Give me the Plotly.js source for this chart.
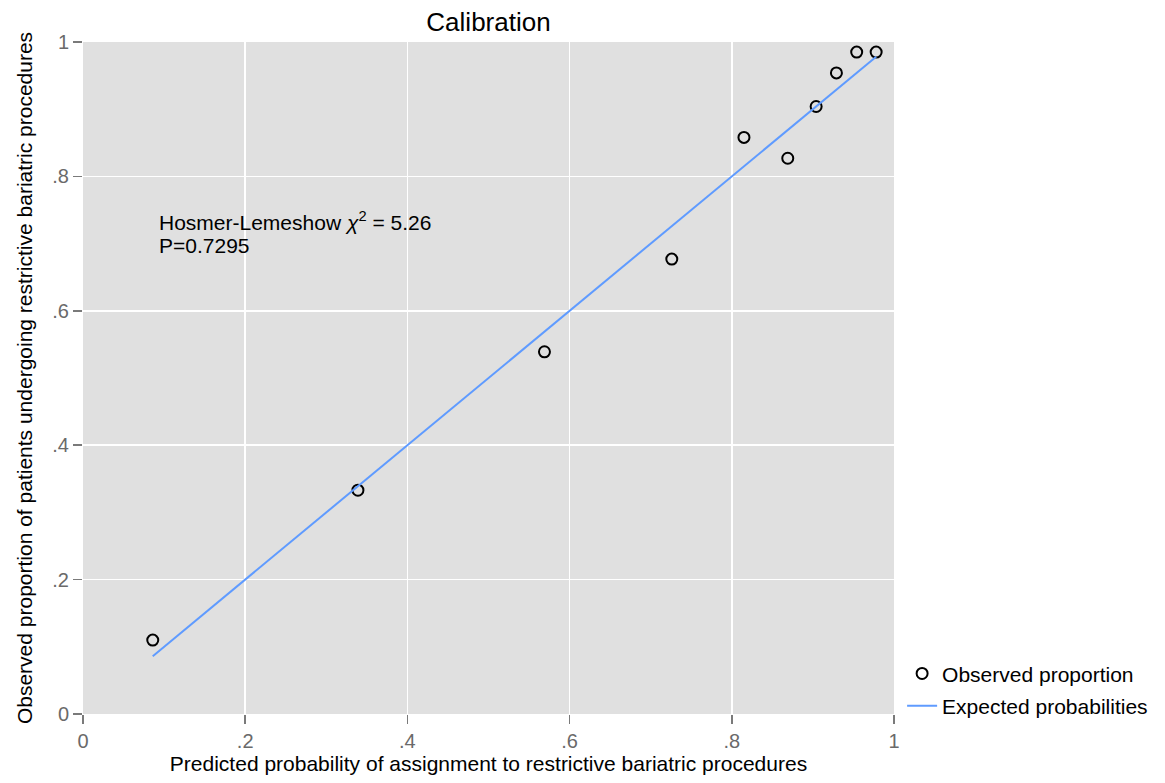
<!DOCTYPE html>
<html>
<head>
<meta charset="utf-8">
<script src="https://cdn.plot.ly/plotly-3.0.1.min.js"></script>
<style>
  html, body { margin: 0; padding: 0; background: #ffffff; }
  #chart { width: 1165px; height: 783px; }
</style>
</head>
<body>
<div id="chart"></div>
<script>
// Mean predicted probability per decile group
const predicted = [0.086, 0.339, 0.569, 0.726, 0.815, 0.869, 0.904, 0.929, 0.954, 0.978];
// Observed proportion of restrictive procedures per group
const observed = [0.110, 0.333, 0.539, 0.677, 0.858, 0.827, 0.904, 0.954, 0.985, 0.985];
// Expected probability per group
const expected = [0.086, 0.339, 0.569, 0.726, 0.815, 0.869, 0.904, 0.929, 0.954, 0.978];

const tickVals = [0, 0.2, 0.4, 0.6, 0.8, 1];
const tickText = ['0', '.2', '.4', '.6', '.8', '1'];

const hlChi2 = '5.26';
const hlP = '0.7295';

const FONT = 'Liberation Sans, Arial, sans-serif';

const traces = [
  {
    x: predicted,
    y: observed,
    type: 'scatter',
    mode: 'markers',
    name: 'Observed proportion',
    legendgroup: 'obs',
    marker: { symbol: 'circle-open', size: 11, color: '#000000', line: { width: 2, color: '#000000' } },
    hoverinfo: 'x+y'
  },
  {
    x: predicted,
    y: expected,
    type: 'scatter',
    mode: 'lines',
    name: 'Expected probabilities',
    legendgroup: 'exp',
    line: { color: '#5f9bff', width: 2 },
    hoverinfo: 'x+y'
  }
];

const axisCommon = {
  range: [0, 1],
  tickmode: 'array',
  tickvals: tickVals,
  ticktext: tickText,
  ticks: 'outside',
  ticklen: 9,
  tickwidth: 1.5,
  tickcolor: '#7a7a7a',
  tickfont: { family: FONT, size: 20, color: '#6a6a6a' },
  showgrid: true,
  gridcolor: '#ffffff',
  gridwidth: 1.5,
  showline: false,
  zeroline: false,
  fixedrange: true
};

const layout = {
  width: 1165,
  height: 783,
  paper_bgcolor: '#ffffff',
  plot_bgcolor: '#e0e0e0',
  margin: { l: 83, r: 271, t: 42, b: 69 },
  font: { family: FONT, color: '#000000' },
  title: {
    text: 'Calibration',
    font: { family: FONT, size: 26, color: '#000000' },
    x: 0.5,
    xref: 'paper',
    xanchor: 'center',
    y: 0.972,
    yanchor: 'middle'
  },
  xaxis: Object.assign({}, axisCommon, {
    title: {
      text: 'Predicted probability of assignment to restrictive bariatric procedures',
      font: { family: FONT, size: 21, color: '#000000' },
      standoff: 4
    }
  }),
  yaxis: Object.assign({}, axisCommon, {
    title: {
      text: 'Observed proportion of patients undergoing restrictive bariatric procedures',
      font: { family: FONT, size: 21, color: '#000000' },
      standoff: 13
    }
  }),
  showlegend: true,
  legend: {
    x: 1.01,
    xanchor: 'left',
    y: 0.036,
    yanchor: 'middle',
    traceorder: 'grouped',
    tracegroupgap: 2,
    bgcolor: 'rgba(0,0,0,0)',
    font: { family: FONT, size: 21, color: '#000000' }
  },
  annotations: [
    {
      text: 'Hosmer-Lemeshow <i>χ</i><sup>2</sup> = ' + hlChi2,
      xref: 'paper', yref: 'paper',
      x: 0.091, y: 0.734,
      xanchor: 'left', yanchor: 'middle',
      showarrow: false,
      font: { family: FONT, size: 21, color: '#000000' }
    },
    {
      text: 'P=' + hlP,
      xref: 'paper', yref: 'paper',
      x: 0.091, y: 0.697,
      xanchor: 'left', yanchor: 'middle',
      showarrow: false,
      font: { family: FONT, size: 21, color: '#000000' }
    }
  ]
};

Plotly.newPlot('chart', traces, layout, { displayModeBar: false, staticPlot: true });
</script>
</body>
</html>
